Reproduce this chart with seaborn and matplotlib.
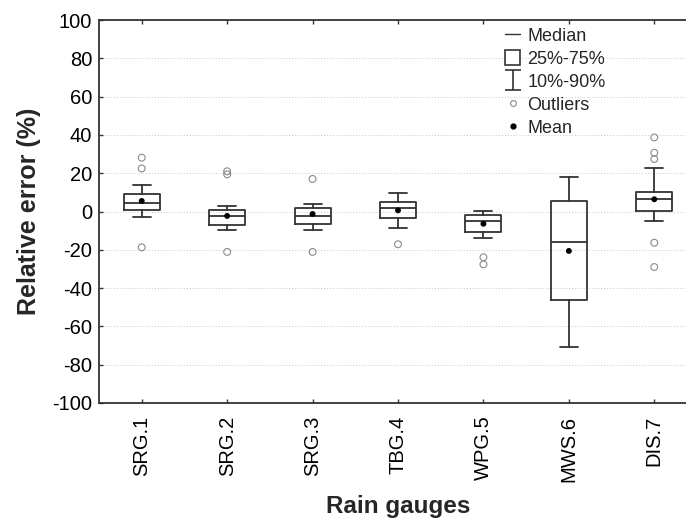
import matplotlib
matplotlib.use("Agg")
import matplotlib.pyplot as plt
from matplotlib.lines import Line2D
from matplotlib.patches import Rectangle
from matplotlib.path import Path
import seaborn as sns
import pandas as pd

# Relative error statistics per rain gauge (%)
gauges = ["SRG.1", "SRG.2", "SRG.3", "TBG.4", "WPG.5", "MWS.6", "DIS.7"]
median = [4.3, -2.5, -2.3, 1.7, -5.0, -15.9, 6.4]
q25 = [0.9, -6.9, -6.4, -3.2, -10.5, -46.4, 0.1]
q75 = [8.9, 0.6, 1.7, 5.0, -2.0, 5.3, 10.3]
p10 = [-3.0, -9.7, -9.8, -8.5, -13.7, -70.6, -5.0]
p90 = [13.8, 2.7, 3.8, 9.8, 0.3, 17.9, 22.9]
mean = [5.5, -2.3, -1.3, 0.6, -6.4, -20.6, 6.4]

outlier_gauge = ["SRG.1", "SRG.1", "SRG.1",
                 "SRG.2", "SRG.2", "SRG.2",
                 "SRG.3", "SRG.3",
                 "TBG.4",
                 "WPG.5", "WPG.5",
                 "DIS.7", "DIS.7", "DIS.7", "DIS.7", "DIS.7"]
outlier_value = [28.1, 22.5, -18.7,
                 21.0, 19.4, -21.1,
                 17.0, -21.1,
                 -17.1,
                 -23.9, -27.6,
                 38.7, 30.7, 27.4, -16.3, -29.0]

yticks = [-100, -80, -60, -40, -20, 0, 20, 40, 60, 80, 100]

sns.set_style("ticks")
plt.rcParams["font.family"] = ["Liberation Sans", "DejaVu Sans"]

W, H = 686, 520
fig = plt.figure(figsize=(W / 100, H / 100), dpi=100)
ax = fig.add_axes([99 / W, (H - 403) / H, (697 - 99) / W, (403 - 20) / H])

ink = "#333333"
pos = list(range(len(gauges)))

stats = [
    dict(med=m, q1=a, q3=b, whislo=lo, whishi=hi, fliers=[], label=g)
    for g, m, a, b, lo, hi in zip(gauges, median, q25, q75, p10, p90)
]
line_kw = dict(color=ink, linewidth=1.3)
ax.bxp(stats, positions=pos, widths=0.42, capwidths=0.21,
       showfliers=False, showmeans=False, patch_artist=False,
       boxprops=line_kw, whiskerprops=line_kw, capprops=line_kw,
       medianprops=line_kw, manage_ticks=False, zorder=3)

df_out = pd.DataFrame({"gauge": outlier_gauge, "value": outlier_value})
df_out["pos"] = df_out["gauge"].map({g: i for i, g in enumerate(gauges)})
sns.scatterplot(data=df_out, x="pos", y="value", ax=ax, marker="o", s=24,
                facecolors="none", edgecolor="#8a8a8a", linewidth=0.8,
                zorder=4, legend=False)

df_mean = pd.DataFrame({"pos": pos, "mean": mean})
sns.scatterplot(data=df_mean, x="pos", y="mean", ax=ax, marker="o", s=18,
                color="black", edgecolor="none", zorder=5, legend=False)

ax.set_xlim(-0.5, len(gauges) - 0.5)
ax.set_ylim(-100, 100)
ax.set_xticks(pos)
ax.set_xticklabels(gauges, rotation=90, fontsize=14.5)
ax.set_yticks(yticks)
ax.set_yticklabels([str(v) for v in yticks], fontsize=14.5)
ax.tick_params(direction="in", length=3, width=1.0, color=ink,
               top=True, right=True, labelcolor="black")
ax.tick_params(axis="y", pad=5)
ax.tick_params(axis="x", pad=9)

ax.yaxis.grid(True, linestyle=(0, (1, 2)), color="#c8c8c8", linewidth=0.7)
ax.xaxis.grid(False)
ax.set_axisbelow(True)
for side in ["top", "bottom", "left", "right"]:
    ax.spines[side].set_visible(True)
    ax.spines[side].set_color(ink)
    ax.spines[side].set_linewidth(1.3)

ax.set_xlabel("Rain gauges", fontsize=17.5, fontweight="bold", va="baseline")
ax.xaxis.set_label_coords(0.5, -(513 - 403) / (403 - 20))
ax.set_ylabel("Relative error (%)", fontsize=18, fontweight="bold", labelpad=8)

# Legend handles describing the box elements
whisker_path = Path([(-0.85, 1), (0.85, 1), (0, 1), (0, -1), (-0.85, -1), (0.85, -1)],
                    [Path.MOVETO, Path.LINETO, Path.MOVETO, Path.LINETO,
                     Path.MOVETO, Path.LINETO])
handles = [
    Line2D([], [], color=ink, linewidth=1.0),
    Rectangle((0, 0), 1, 1, facecolor="white", edgecolor=ink, linewidth=1.2),
    Line2D([], [], linestyle="none", marker=whisker_path, markersize=14,
           markeredgecolor=ink, markeredgewidth=1.2),
    Line2D([], [], linestyle="none", marker="o", markersize=4.2,
           markerfacecolor="none", markeredgecolor="#8a8a8a", markeredgewidth=0.8),
    Line2D([], [], linestyle="none", marker="o", markersize=3.5,
           markerfacecolor="black", markeredgecolor="black"),
]
labels = ["Median", "25%-75%", "10%-90%", "Outliers", "Mean"]
leg = ax.legend(handles, labels, loc="upper left",
                bbox_to_anchor=(505 / W, 1 - 27 / H),
                bbox_transform=fig.transFigure, frameon=False, fontsize=13,
                handlelength=0.85, handleheight=0.9, handletextpad=0.4,
                labelspacing=0.3, borderpad=0, borderaxespad=0)

fig.savefig("out.png", dpi=100)
